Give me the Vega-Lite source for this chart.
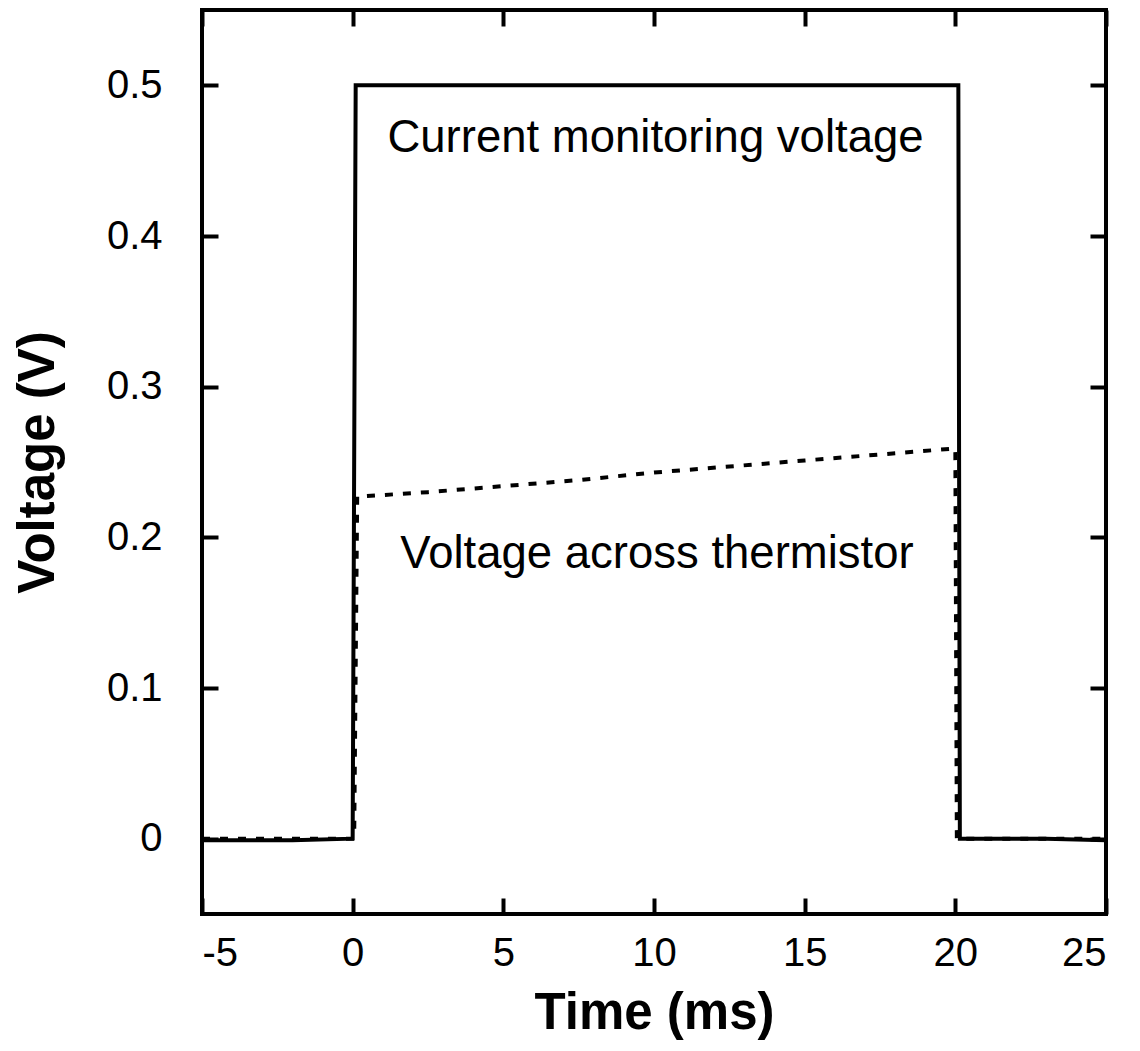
{
  "$schema": "https://vega.github.io/schema/vega-lite/v6.json",
  "width": 904,
  "height": 904,
  "autosize": "none",
  "padding": {"left": 202, "top": 10, "right": 34, "bottom": 137},
  "background": "white",
  "config": {
    "font": "Liberation Sans",
    "view": {"stroke": "black", "strokeWidth": 4},
    "axis": {
      "grid": false,
      "domain": false,
      "tickColor": "black",
      "tickWidth": 4,
      "tickSize": -16,
      "labelColor": "black",
      "labelFont": "Liberation Sans",
      "labelFontSize": 40,
      "titleFont": "Liberation Sans",
      "titleFontSize": 51,
      "titleFontWeight": "bold",
      "titleColor": "black"
    }
  },
  "datasets": {
    "current": [
      {"i": 0, "t": -5, "v": -0.001},
      {"i": 1, "t": -2, "v": -0.001},
      {"i": 2, "t": 0, "v": 0.0},
      {"i": 3, "t": 0.1, "v": 0.5},
      {"i": 4, "t": 5, "v": 0.5},
      {"i": 5, "t": 10, "v": 0.5},
      {"i": 6, "t": 15, "v": 0.5},
      {"i": 7, "t": 20.1, "v": 0.5},
      {"i": 8, "t": 20.15, "v": 0.0},
      {"i": 9, "t": 23, "v": 0.0},
      {"i": 10, "t": 25, "v": -0.001}
    ],
    "therm": [
      {"i": 0, "t": -5, "v": 0.0},
      {"i": 1, "t": 0.05, "v": 0.0},
      {"i": 2, "t": 0.15, "v": 0.227},
      {"i": 3, "t": 2.5, "v": 0.23},
      {"i": 4, "t": 5, "v": 0.234},
      {"i": 5, "t": 7.5, "v": 0.238},
      {"i": 6, "t": 10, "v": 0.243},
      {"i": 7, "t": 12.5, "v": 0.247},
      {"i": 8, "t": 15, "v": 0.251},
      {"i": 9, "t": 17.5, "v": 0.255},
      {"i": 10, "t": 20, "v": 0.259},
      {"i": 11, "t": 20.05, "v": 0.0},
      {"i": 12, "t": 25, "v": 0.0}
    ],
    "labels": [
      {"t": 10.05, "v": 0.465, "text": "Current monitoring voltage"},
      {"t": 10.1, "v": 0.189, "text": "Voltage across thermistor"}
    ]
  },
  "resolve": {"axis": {"x": "independent", "y": "independent"}},
  "layer": [
    {
      "data": {"name": "therm"},
      "mark": {"type": "line", "color": "black", "strokeWidth": 4, "strokeDash": [8, 10], "clip": true},
      "encoding": {
        "x": {
          "field": "t", "type": "quantitative",
          "scale": {"domain": [-5, 25], "nice": false, "zero": false},
          "axis": {"orient": "bottom", "title": "Time (ms)", "values": [-5, 0, 5, 10, 15, 20, 25],
                   "labelExpr": "replace(datum.label, '−', '-')", "labelPadding": 35, "titlePadding": 15}
        },
        "y": {
          "field": "v", "type": "quantitative",
          "scale": {"domain": [-0.05, 0.55], "nice": false, "zero": false},
          "axis": {"orient": "left", "title": "Voltage (V)", "values": [0, 0.1, 0.2, 0.3, 0.4, 0.5],
                   "format": ".1~f", "labelPadding": 56, "titlePadding": 42}
        },
        "order": {"field": "i"}
      }
    },
    {
      "data": {"name": "current"},
      "mark": {"type": "line", "color": "black", "strokeWidth": 4, "clip": true},
      "encoding": {
        "x": {
          "field": "t", "type": "quantitative",
          "axis": {"orient": "top", "title": null, "labels": false, "values": [-5, 0, 5, 10, 15, 20, 25]}
        },
        "y": {
          "field": "v", "type": "quantitative",
          "axis": {"orient": "right", "title": null, "labels": false, "values": [0, 0.1, 0.2, 0.3, 0.4, 0.5]}
        },
        "order": {"field": "i"}
      }
    },
    {
      "data": {"name": "labels"},
      "mark": {"type": "text", "font": "Liberation Sans", "fontSize": 45.5, "color": "black", "align": "center", "baseline": "middle"},
      "encoding": {
        "x": {"field": "t", "type": "quantitative", "axis": null},
        "y": {"field": "v", "type": "quantitative", "axis": null},
        "text": {"field": "text"}
      }
    }
  ]
}
